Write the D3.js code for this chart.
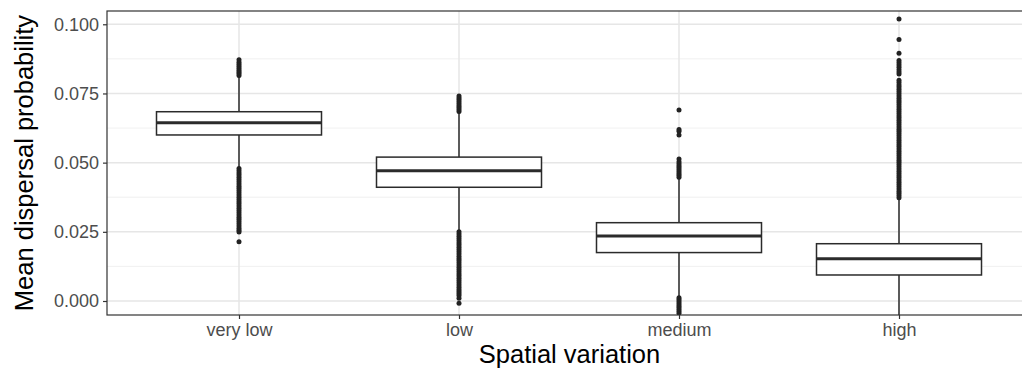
<!DOCTYPE html>
<html>
<head>
<meta charset="utf-8">
<script src="https://cdn.jsdelivr.net/npm/d3@7"></script>
<style>
  body { margin: 0; background: #fff; }
  svg { display: block; font-family: "Liberation Sans", Arial, sans-serif; }
</style>
</head>
<body>
<svg id="chart" width="1022" height="371"></svg>
<script>
// Categories and box statistics
const categories = ["very low", "low", "medium", "high"];
const q1 = [0.0600, 0.0411, 0.0175, 0.0094];
const medians = [0.0644, 0.0471, 0.0235, 0.0153];
const q3 = [0.0684, 0.0520, 0.0283, 0.0207];
const whiskerLow = [0.0482, 0.0255, 0.0016, -0.0060];
const whiskerHigh = [0.0811, 0.0682, 0.0443, 0.0370];

// Outliers per category
const outliersVeryLow = [
  0.0815, 0.0822, 0.0828, 0.0834, 0.0841, 0.0848, 0.0856, 0.0863, 0.0872,
  0.0479, 0.0471, 0.0463, 0.0455, 0.0447, 0.0439, 0.0431, 0.0423, 0.0415, 0.0407,
  0.0399, 0.0391, 0.0383, 0.0375, 0.0367, 0.0359, 0.0351, 0.0343, 0.0335, 0.0327,
  0.0319, 0.0311, 0.0303, 0.0295, 0.0287, 0.0279, 0.0271, 0.0263, 0.0256, 0.0249,
  0.0214
];
const outliersLow = [
  0.0685, 0.0692, 0.0699, 0.0706, 0.0713, 0.0720, 0.0727, 0.0734, 0.0741,
  0.0250, 0.0242, 0.0234, 0.0226, 0.0218, 0.0210, 0.0202, 0.0194, 0.0186, 0.0178,
  0.0170, 0.0162, 0.0154, 0.0146, 0.0138, 0.0130, 0.0122, 0.0114, 0.0106, 0.0098,
  0.0090, 0.0082, 0.0074, 0.0066, 0.0058, 0.0050, 0.0042, 0.0034, 0.0027, 0.0020,
  0.0010, -0.0008
];
const outliersMedium = [
  0.0447, 0.0454, 0.0461, 0.0468, 0.0475, 0.0482, 0.0489, 0.0496, 0.0503, 0.0513,
  0.0600, 0.0613, 0.0620, 0.0690,
  0.0012, 0.0005, -0.0002, -0.0009, -0.0016, -0.0023, -0.0030, -0.0037, -0.0044
];
const outliersHigh = [
  0.0373, 0.0381, 0.0389, 0.0397, 0.0405, 0.0413, 0.0421, 0.0429, 0.0437, 0.0445,
  0.0453, 0.0461, 0.0469, 0.0477, 0.0485, 0.0493, 0.0501, 0.0509, 0.0517, 0.0525,
  0.0533, 0.0541, 0.0549, 0.0557, 0.0565, 0.0573, 0.0581, 0.0589, 0.0597, 0.0605,
  0.0613, 0.0621, 0.0629, 0.0637, 0.0645, 0.0653, 0.0661, 0.0669, 0.0677, 0.0685,
  0.0693, 0.0701, 0.0709, 0.0717, 0.0725, 0.0733, 0.0741, 0.0749, 0.0757, 0.0765,
  0.0773, 0.0781, 0.0790, 0.0798,
  0.0820, 0.0828, 0.0836, 0.0845, 0.0853, 0.0861, 0.0869,
  0.0895, 0.0945, 0.1019
];
const outliers = [outliersVeryLow, outliersLow, outliersMedium, outliersHigh];

const yTicks = [0, 0.025, 0.05, 0.075, 0.1];
const yMinorTicks = [0.0125, 0.0375, 0.0625, 0.0875];

const boxes = categories.map((cat, i) => ({
  cat, q1: q1[i], median: medians[i], q3: q3[i],
  lo: whiskerLow[i], hi: whiskerHigh[i], out: outliers[i]
}));

const svg = d3.select("#chart");
const panel = { left: 107, top: 11, right: 1031, bottom: 315 };

const x = d3.scalePoint().domain(categories).range([panel.left, panel.right]).padding(0.6);
const y = d3.scaleLinear().domain([-0.00506, 0.1048]).range([panel.bottom, panel.top]);
const boxWidth = x.step() * 0.75;

svg.append("clipPath").attr("id", "clip")
  .append("rect")
  .attr("x", panel.left).attr("y", panel.top)
  .attr("width", panel.right - panel.left).attr("height", panel.bottom - panel.top);

// Grid
const grid = svg.append("g").attr("clip-path", "url(#clip)");
grid.selectAll(".minor").data(yMinorTicks).join("line")
  .attr("x1", panel.left).attr("x2", panel.right)
  .attr("y1", (d) => y(d)).attr("y2", (d) => y(d))
  .attr("stroke", "#ececec").attr("stroke-width", 0.8);
grid.selectAll(".major").data(yTicks).join("line")
  .attr("x1", panel.left).attr("x2", panel.right)
  .attr("y1", (d) => y(d)).attr("y2", (d) => y(d))
  .attr("stroke", "#e6e6e6").attr("stroke-width", 1.5);
grid.selectAll(".vmajor").data(categories).join("line")
  .attr("x1", (d) => x(d)).attr("x2", (d) => x(d))
  .attr("y1", panel.top).attr("y2", panel.bottom)
  .attr("stroke", "#e6e6e6").attr("stroke-width", 1.5);

// Boxplots
const marks = svg.append("g").attr("clip-path", "url(#clip)");
const stroke = "#2b2b2b";
const g = marks.selectAll(".box").data(boxes).join("g");

g.append("line")
  .attr("x1", (d) => x(d.cat)).attr("x2", (d) => x(d.cat))
  .attr("y1", (d) => y(d.hi)).attr("y2", (d) => y(d.q3))
  .attr("stroke", stroke).attr("stroke-width", 1.5);
g.append("line")
  .attr("x1", (d) => x(d.cat)).attr("x2", (d) => x(d.cat))
  .attr("y1", (d) => y(d.q1)).attr("y2", (d) => y(d.lo))
  .attr("stroke", stroke).attr("stroke-width", 1.5);
g.append("rect")
  .attr("x", (d) => x(d.cat) - boxWidth / 2)
  .attr("width", boxWidth)
  .attr("y", (d) => y(d.q3))
  .attr("height", (d) => y(d.q1) - y(d.q3))
  .attr("fill", "#fff").attr("stroke", stroke).attr("stroke-width", 1.5);
g.append("line")
  .attr("x1", (d) => x(d.cat) - boxWidth / 2).attr("x2", (d) => x(d.cat) + boxWidth / 2)
  .attr("y1", (d) => y(d.median)).attr("y2", (d) => y(d.median))
  .attr("stroke", stroke).attr("stroke-width", 3);
g.selectAll("circle").data((d) => d.out.map((v) => ({ cat: d.cat, v }))).join("circle")
  .attr("cx", (d) => x(d.cat)).attr("cy", (d) => y(d.v))
  .attr("r", 2.5).attr("fill", "#222");

// Panel border (right edge falls off the picture)
svg.append("rect")
  .attr("x", panel.left).attr("y", panel.top)
  .attr("width", panel.right - panel.left).attr("height", panel.bottom - panel.top)
  .attr("fill", "none").attr("stroke", "#333").attr("stroke-width", 1.2);

// Axes
const yAxis = svg.append("g")
  .attr("transform", `translate(${panel.left},0)`)
  .call(d3.axisLeft(y).tickValues(yTicks).tickFormat(d3.format(".3f")).tickSize(4).tickPadding(4));
const xAxis = svg.append("g")
  .attr("transform", `translate(0,${panel.bottom})`)
  .call(d3.axisBottom(x).tickSize(4).tickPadding(4));
[yAxis, xAxis].forEach((ax) => {
  ax.select(".domain").remove();
  ax.selectAll(".tick line").attr("stroke", "#333").attr("stroke-width", 1.2);
  ax.selectAll(".tick text").attr("fill", "#4d4d4d")
    .style("font-size", "18px").style("font-family", "Liberation Sans, Arial, sans-serif");
});

// Axis titles
svg.append("text")
  .attr("x", (panel.left + 1022) / 2 + 5).attr("y", 363)
  .attr("text-anchor", "middle")
  .style("font-size", "25.5px").attr("fill", "#000")
  .text("Spatial variation");
svg.append("text")
  .attr("transform", `translate(33,${(panel.top + panel.bottom) / 2}) rotate(-90)`)
  .attr("text-anchor", "middle")
  .style("font-size", "25.5px").attr("fill", "#000")
  .text("Mean dispersal probability");
</script>
</body>
</html>
